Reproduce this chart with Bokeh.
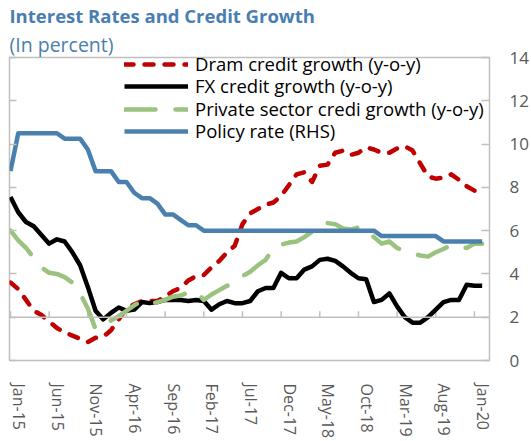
import pandas as pd
from bokeh.plotting import figure
from bokeh.models import (Range1d, LinearAxis, FixedTicker, CustomJSTickFormatter,
                          Span, Legend, LegendItem, Title)
from bokeh.embed import file_html
from bokeh.resources import INLINE

# ---------------- data ----------------
months = list(pd.date_range("2015-01-01", periods=62, freq="MS").strftime("%b-%y"))
tick_labels = ["Jan-15", "Jun-15", "Nov-15", "Apr-16", "Sep-16", "Feb-17", "Jul-17",
               "Dec-17", "May-18", "Oct-18", "Mar-19", "Aug-19", "Jan-20"]
series_names = ["Dram credit growth (y-o-y)", "FX credit growth (y-o-y)",
                "Private sector credi growth (y-o-y)", "Policy rate (RHS)"]

# left axis (unlabelled, zero at the inner horizontal axis line)
dram_credit = [1.6, 1.3, 0.8, 0.3, 0.1, -0.2, -0.5, -0.7, -0.85, -1.0,
               -1.15, -0.95, -0.9, -0.6, -0.1, 0.4, 0.6, 0.75, 0.75, 0.75,
               0.95, 1.2, 1.35, 1.7, 1.9, 1.95, 2.3, 2.6, 3.0, 3.3,
               4.3, 4.8, 5.0, 5.2, 5.3, 5.6, 6.1, 6.6, 6.7, 6.25,
               7.0, 7.05, 7.6, 7.7, 7.5, 7.6, 7.85, 7.75, 7.6, 7.6,
               7.8, 7.9, 7.7, 7.1, 6.5, 6.4, 6.45, 6.6, 6.35, 6.05,
               5.85, 5.75]
fx_credit = [5.55, 4.85, 4.4, 4.2, 3.8, 3.4, 3.6, 3.5, 3.0, 2.4,
             1.4, 0.3, -0.1, 0.2, 0.45, 0.3, 0.35, 0.7, 0.65, 0.7,
             0.8, 0.8, 0.8, 0.75, 0.8, 0.75, 0.35, 0.6, 0.75, 0.65,
             0.65, 0.75, 1.2, 1.35, 1.35, 2.05, 1.8, 1.8, 2.2, 2.35,
             2.65, 2.7, 2.6, 2.35, 2.05, 1.8, 1.75, 0.7, 0.8, 1.1,
             0.5, 0.0, -0.25, -0.25, 0.0, 0.35, 0.7, 0.8, 0.8, 1.5,
             1.45, 1.45]
private_credit = [4.0, 3.55, 3.2, 2.75, 2.3, 2.05, 2.0, 1.85, 1.6, 1.1,
                  0.4, -0.55, -0.4, -0.15, 0.05, 0.3, 0.55, 0.75, 0.6, 0.7,
                  0.8, 0.95, 1.0, 1.15, 1.2, 0.8, 1.05, 1.25, 1.45, 1.6,
                  1.9, 2.1, 2.4, 2.65, 3.2, 3.35, 3.45, 3.5, 3.7, 3.95,
                  4.0, 4.35, 4.3, 4.1, 4.05, 4.15, 4.1, 3.7, 3.4, 3.5,
                  3.2, 3.05, 2.95, 2.85, 2.8, 3.0, 3.15, 3.35, 3.25, 3.2,
                  3.4, 3.4]
# right axis
policy_rate = [8.75, 10.5, 10.5, 10.5, 10.5, 10.5, 10.5, 10.25, 10.25, 10.25,
               9.75, 8.75, 8.75, 8.75, 8.25, 8.25, 7.75, 7.5, 7.5, 7.25,
               6.75, 6.75, 6.5, 6.25, 6.25, 6.0, 6.0, 6.0, 6.0, 6.0,
               6.0, 6.0, 6.0, 6.0, 6.0, 6.0, 6.0, 6.0, 6.0, 6.0,
               6.0, 6.0, 6.0, 6.0, 6.0, 6.0, 6.0, 6.0, 5.75, 5.75,
               5.75, 5.75, 5.75, 5.75, 5.75, 5.75, 5.5, 5.5, 5.5, 5.5,
               5.5, 5.5]
left_ticks = [-2, 0, 2, 4, 6, 8, 10, 12]
right_ticks = [0, 2, 4, 6, 8, 10, 12, 14]

x = list(range(len(months)))
tick_pos = [months.index(t) for t in tick_labels]

# ---------------- style ----------------
FONT = "Open Sans"
BLUE_T = "#4A7EB0"
GRAY = "#BFBFBF"
LBL = "#595959"
LABEL_SHIFT = 1.1    # labels sit slightly right of their tick marks
TICK_LEN = 0.27
LEGEND_Y = [284, 262, 239, 217]   # screen offsets of the legend rows

p = figure(width=531, height=441, output_backend="svg", toolbar_location=None,
           title=None, x_axis_type=None, y_axis_type=None,
           x_range=Range1d(-0.13, 61.95), y_range=Range1d(-2, 12),
           min_border_left=9, min_border_right=0, min_border_top=0,
           min_border_bottom=0)
p.extra_y_ranges = {"rhs": Range1d(0, 14)}
p.outline_line_color = GRAY
p.outline_line_width = 1.5
p.background_fill_color = "white"
p.border_fill_color = "white"

left_axis = LinearAxis(ticker=FixedTicker(ticks=left_ticks),
                       major_label_text_font_size="0px", major_label_standoff=0,
                       major_tick_in=7, major_tick_out=0, major_tick_line_color=GRAY,
                       major_tick_line_width=1.5,
                       minor_tick_line_color=None, axis_line_color=None)
p.add_layout(left_axis, "left")

right_axis = LinearAxis(y_range_name="rhs", ticker=FixedTicker(ticks=right_ticks),
                        major_label_text_font_size="17px", major_label_text_font=FONT,
                        major_label_text_color=LBL, major_label_standoff=20,
                        major_tick_in=8, major_tick_out=0, major_tick_line_color=GRAY,
                        major_tick_line_width=1.5,
                        minor_tick_line_color=None, axis_line_color=None)
p.add_layout(right_axis, "right")

bottom_axis = LinearAxis(ticker=FixedTicker(ticks=[t + LABEL_SHIFT for t in tick_pos]),
                         formatter=CustomJSTickFormatter(args=dict(labels=tick_labels),
                                                         code="return labels[index];"),
                         major_label_orientation="vertical",
                         major_label_text_font_size="16px", major_label_text_font=FONT,
                         major_label_text_color=LBL, major_label_standoff=17,
                         major_tick_line_color=None, minor_tick_line_color=None,
                         axis_line_color=None)
p.add_layout(bottom_axis, "below")

# inner horizontal axis at zero with upward ticks
p.add_layout(Span(location=0, dimension="width", line_color=GRAY, line_width=1.5))
p.segment(x0=tick_pos, y0=[0] * len(tick_pos), x1=tick_pos,
          y1=[TICK_LEN] * len(tick_pos), line_color=GRAY, line_width=1.5)

r_dram = p.line(x, dram_credit, line_color="#C00000", line_width=4.5,
                line_dash="9 11", line_cap="round", line_join="round")
r_fx = p.line(x, fx_credit, line_color="#000000", line_width=4.5, line_join="round")
r_priv = p.line(x, private_credit, line_color="#9BC27F", line_width=4.5,
                line_dash="31 20", line_cap="round", line_join="round")
r_pol = p.line(x, policy_rate, y_range_name="rhs", line_color="#4A80AE",
               line_width=4.5, line_join="round")

for name, rend, ly in zip(series_names, [r_dram, r_fx, r_priv, r_pol], LEGEND_Y):
    lg = Legend(items=[LegendItem(label=name, renderers=[rend])],
                location=(115, ly), glyph_width=64, glyph_height=18, label_height=18,
                spacing=0, padding=0, margin=0, border_line_color=None,
                background_fill_alpha=0, label_text_font_size="18.5px",
                label_text_font=FONT, label_standoff=7, label_text_color="#000000")
    p.add_layout(lg)

p.add_layout(Title(text="(In percent)", text_font_size="19.5px", text_font=FONT,
                   text_font_style="normal", text_color=BLUE_T, align="left",
                   standoff=0), "above")
p.add_layout(Title(text="Interest Rates and Credit Growth", text_font_size="18.5px",
                   text_font=FONT, text_font_style="bold", text_color=BLUE_T,
                   align="left", standoff=1), "above")

open("out.html", "w").write(file_html(p, INLINE))
